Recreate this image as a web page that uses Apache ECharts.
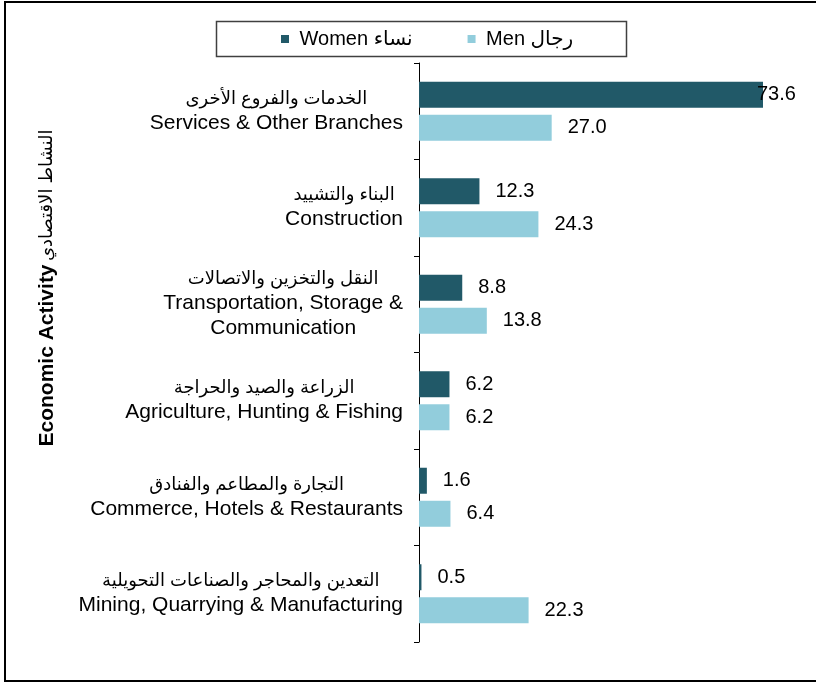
<!DOCTYPE html>
<html>
<head>
<meta charset="utf-8">
<script src="https://cdn.jsdelivr.net/npm/echarts@6/dist/echarts.min.js"></script>
<style>
  html, body { margin: 0; padding: 0; background: #ffffff; }
  #chart { width: 816px; height: 684px; }
</style>
</head>
<body>
<div id="chart"></div>
<script>
// ---- Data (top to bottom) ----
const categoriesEn = [
  'Services & Other Branches',
  'Construction',
  'Transportation, Storage &\nCommunication',
  'Agriculture, Hunting & Fishing',
  'Commerce, Hotels & Restaurants',
  'Mining, Quarrying & Manufacturing'
];
const categoriesAr = [
  'الخدمات والفروع الأخرى',
  'البناء والتشييد',
  'النقل والتخزين والاتصالات',
  'الزراعة والصيد والحراجة',
  'التجارة والمطاعم والفنادق',
  'التعدين والمحاجر والصناعات التحويلية'
];
const womenValues = [73.6, 12.3, 8.8, 6.2, 1.6, 0.5];
const menValues   = [27.0, 24.3, 13.8, 6.2, 6.4, 22.3];
const seriesNames = ['Women نساء', 'Men رجال'];
const axisTitleEn = 'Economic Activity';
const axisTitleAr = 'النشاط الاقتصادي';
const axisMax = 70;

// ---- Styling ----
const FONT = 'Liberation Sans, Arial, DejaVu Sans, sans-serif';
const WOMEN_COLOR = '#215968';
const MEN_COLOR = '#92CDDC';

const chart = echarts.init(document.getElementById('chart'), null, { renderer: 'canvas' });

const womenData = womenValues.map(function (v) {
  if (v > axisMax) {
    return { value: v, label: { distance: -6 } };
  }
  return v;
});

const option = {
  animation: false,
  backgroundColor: '#ffffff',
  textStyle: { fontFamily: FONT },
  grid: { left: 419, right: 53, top: 63, bottom: 42, containLabel: false, outerBoundsMode: 'none' },
  legend: {
    data: seriesNames,
    left: 281,
    top: 29,
    padding: 0,
    itemGap: 55,
    icon: 'rect',
    itemWidth: 8,
    itemHeight: 8,
    formatter: ' {name}',
    textStyle: { fontFamily: FONT, fontSize: 20, color: '#000' }
  },
  xAxis: {
    type: 'value',
    min: 0,
    max: axisMax,
    show: false,
    splitLine: { show: false }
  },
  yAxis: {
    type: 'category',
    inverse: true,
    data: categoriesEn,
    axisLine: { show: true, lineStyle: { color: '#000', width: 1 } },
    axisTick: { show: true, length: 5, inside: false, lineStyle: { color: '#000' } },
    axisLabel: {
      margin: 16,
      formatter: function (value, index) {
        const lines = ['{a|' + categoriesAr[index] + '}'];
        value.split('\n').forEach(function (l) { lines.push('{e|' + l + '}'); });
        return lines.join('\n');
      },
      rich: {
        a: { fontFamily: FONT, fontSize: 18, color: '#000', align: 'center', lineHeight: 23 },
        e: { fontFamily: FONT, fontSize: 21, color: '#000', align: 'center', lineHeight: 25 }
      }
    }
  },
  series: [
    {
      name: seriesNames[0],
      type: 'bar',
      data: womenData,
      barWidth: 26,
      barGap: '27%',
      itemStyle: { color: WOMEN_COLOR },
      label: {
        show: true, position: 'right', distance: 16,
        fontFamily: FONT, fontSize: 20, color: '#000',
        formatter: function (p) { return Number(p.value).toFixed(1); }
      }
    },
    {
      name: seriesNames[1],
      type: 'bar',
      data: menValues,
      barWidth: 26,
      itemStyle: { color: MEN_COLOR },
      label: {
        show: true, position: 'right', distance: 16,
        fontFamily: FONT, fontSize: 20, color: '#000',
        formatter: function (p) { return Number(p.value).toFixed(1); }
      }
    }
  ],
  graphic: [
    {
      type: 'rect',
      shape: { x: 5, y: 2, width: 830, height: 679 },
      style: { fill: null, stroke: '#000', lineWidth: 2 },
      silent: true
    },
    {
      type: 'rect',
      shape: { x: 216.5, y: 21.5, width: 410, height: 35 },
      style: { fill: null, stroke: '#404040', lineWidth: 1.5 },
      silent: true
    },
    {
      type: 'text',
      x: 47,
      y: 288,
      rotation: Math.PI / 2,
      style: {
        text: '{b|' + axisTitleEn + '} {a|' + axisTitleAr + '}',
        align: 'center',
        verticalAlign: 'middle',
        rich: {
          b: { fontFamily: FONT, fontSize: 21, fontWeight: 'bold', fill: '#000' },
          a: { fontFamily: FONT, fontSize: 18, fill: '#000' }
        }
      },
      silent: true
    }
  ]
};

chart.setOption(option);
</script>
</body>
</html>
